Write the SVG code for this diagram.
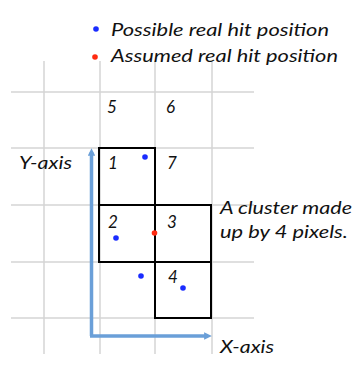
<svg xmlns="http://www.w3.org/2000/svg" width="357" height="370" viewBox="0 0 357 370">
<defs>
<style>
.grid{stroke:#d4d4d4;stroke-width:1.5;fill:none}
.cell{stroke:#000;stroke-width:2;fill:none}
.axis{stroke:#6a9fd8;stroke-width:3.5;fill:none}
.t{font-family:Lato,"Open Sans","Liberation Sans",sans-serif;font-style:italic;font-size:17px;fill:#111}
.blue{fill:#1a2cff}
.red{fill:#ff2a10}
</style>
<marker id="ah" viewBox="0 0 6 6" refX="3" refY="3" markerWidth="2.2" markerHeight="2.2" orient="auto"><path d="M0,0 L6,3 L0,6 Z" fill="#6a9fd8"/></marker>
</defs>
<rect width="357" height="370" fill="#fff"/>
<g id="grid">
<line class="grid" x1="44" y1="61" x2="44" y2="354"/>
<line class="grid" x1="100" y1="61" x2="100" y2="354"/>
<line class="grid" x1="155" y1="61" x2="155" y2="354"/>
<line class="grid" x1="212" y1="61" x2="212" y2="354"/>
<line class="grid" x1="11" y1="92" x2="254" y2="92"/>
<line class="grid" x1="11" y1="148" x2="254" y2="148"/>
<line class="grid" x1="11" y1="205" x2="254" y2="205"/>
<line class="grid" x1="11" y1="262" x2="254" y2="262"/>
<line class="grid" x1="11" y1="318" x2="254" y2="318"/>
</g>
<g id="legend">
<circle class="blue" cx="96" cy="29" r="2.8"/>
<text class="t" x="111" y="36" textLength="218" lengthAdjust="spacingAndGlyphs">Possible real hit position</text>
<circle class="red" cx="95" cy="57" r="2.8"/>
<text class="t" x="111" y="62" textLength="227" lengthAdjust="spacingAndGlyphs">Assumed real hit position</text>
</g>
<g id="labels">
<text class="t" x="107" y="113">5</text>
<text class="t" x="166" y="113">6</text>
<text class="t" x="19" y="169" textLength="53" lengthAdjust="spacingAndGlyphs">Y-axis</text>
<text class="t" x="167" y="169">7</text>
<text class="t" x="220" y="214" textLength="132" lengthAdjust="spacingAndGlyphs">A cluster made</text>
<text class="t" x="220" y="238" textLength="128" lengthAdjust="spacingAndGlyphs">up by 4 pixels.</text>
<text class="t" x="220" y="353" textLength="54" lengthAdjust="spacingAndGlyphs">X-axis</text>
</g>
<g id="pixel1">
<rect class="cell" x="99" y="148" width="56" height="57"/>
<text class="t" x="108" y="169">1</text>
</g>
<g id="pixel2">
<rect class="cell" x="99" y="205" width="56" height="57"/>
<text class="t" x="108" y="228">2</text>
</g>
<g id="pixel3">
<rect class="cell" x="155" y="205" width="56" height="57"/>
<text class="t" x="167" y="228">3</text>
</g>
<g id="pixel4">
<rect class="cell" x="155" y="262" width="56" height="56"/>
<text class="t" x="168" y="283">4</text>
</g>
<g id="connectors">
<path class="axis" d="M91.5,336 L91.5,152" marker-end="url(#ah)"/>
<path class="axis" d="M90,336 L208,336" marker-end="url(#ah)"/>
</g>
<g id="dots">
<circle class="blue" cx="145" cy="157" r="2.8"/>
<circle class="blue" cx="116" cy="238" r="2.8"/>
<circle class="red" cx="154.5" cy="233" r="2.8"/>
<circle class="blue" cx="141" cy="276" r="2.8"/>
<circle class="blue" cx="183" cy="288" r="2.8"/>
</g>
</svg>
